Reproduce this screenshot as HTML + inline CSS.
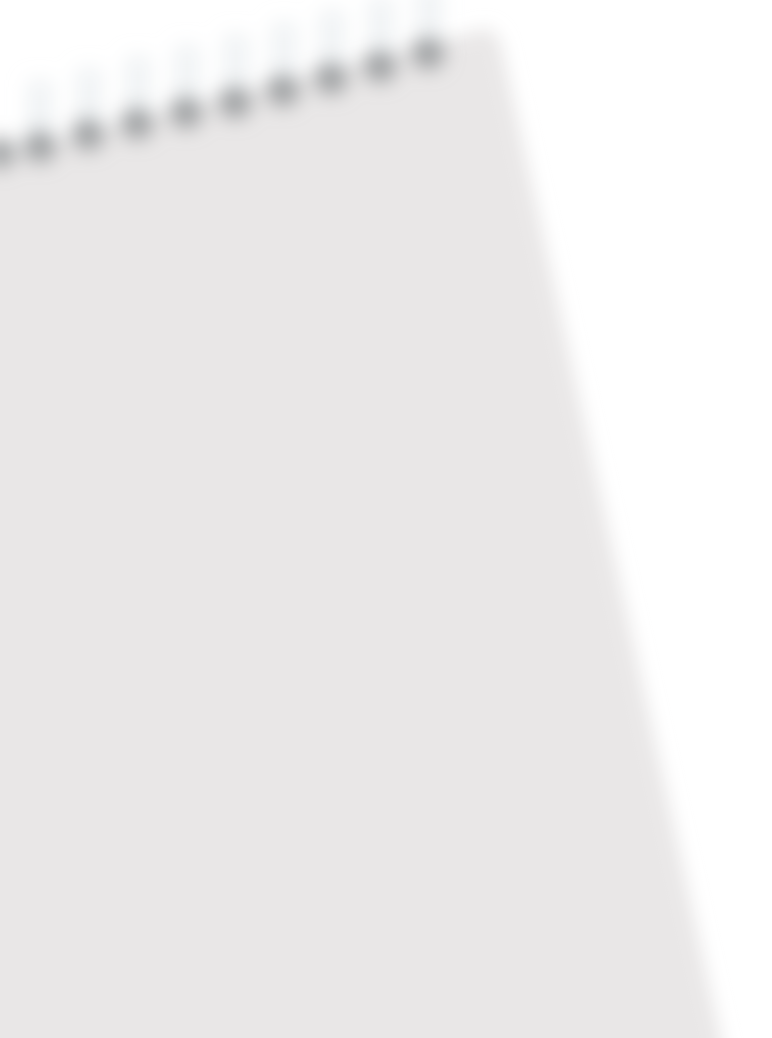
<!DOCTYPE html>
<html><head><meta charset="utf-8"><style>
html,body{margin:0;padding:0;background:#fff;width:772px;height:1038px;overflow:hidden}
</style></head><body>
<svg width="772" height="1038" viewBox="0 0 772 1038" xmlns="http://www.w3.org/2000/svg">
<defs>
<filter id="b" x="-20%" y="-20%" width="140%" height="140%"><feGaussianBlur stdDeviation="9"/></filter>
<filter id="b2" x="-50%" y="-50%" width="200%" height="200%"><feGaussianBlur stdDeviation="10"/></filter>
</defs>
<rect width="772" height="1038" fill="#ffffff"/>
<polygon filter="url(#b)" fill="#e9e7e7" points="-40,165 488,28 500,40 728,1070 -40,1070"/>
<g filter="url(#b2)">
<g fill="#e4e9ed" opacity="0.6">
<rect x="28" y="80" width="24" height="60"/><rect x="77" y="68" width="24" height="60"/><rect x="126" y="56" width="24" height="60"/><rect x="175" y="45" width="24" height="60"/><rect x="224" y="34" width="24" height="60"/><rect x="272" y="22" width="24" height="60"/><rect x="320" y="10" width="24" height="60"/><rect x="369" y="-2" width="24" height="60"/><rect x="417" y="-14" width="24" height="60"/>
</g>
<g fill="#9a9c9e">
<circle cx="0" cy="153" r="15"/><circle cx="40" cy="146" r="16"/><circle cx="88" cy="134" r="16"/><circle cx="137" cy="123" r="16"/><circle cx="186" cy="112" r="16"/><circle cx="235" cy="102" r="16"/><circle cx="283" cy="90" r="16"/><circle cx="331" cy="78" r="16"/><circle cx="380" cy="66" r="16"/><circle cx="428" cy="53" r="16"/>
</g>
</g>
</svg>
</body></html>
